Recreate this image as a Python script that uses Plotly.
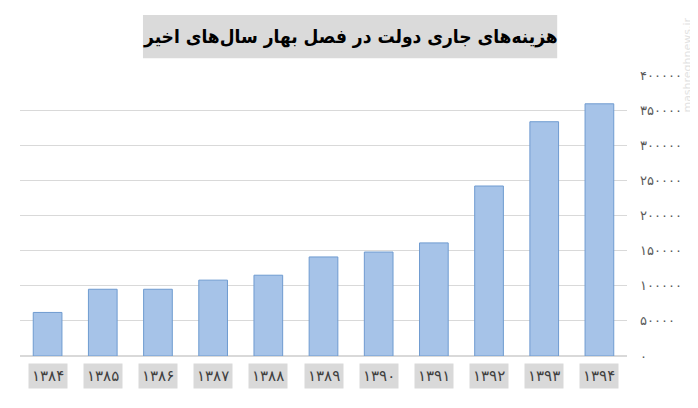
"""
Spring current expenditures of the government, bar chart (Persian)
"""
import plotly.graph_objects as go

years = ["۱۳۸۴", "۱۳۸۵", "۱۳۸۶", "۱۳۸۷", "۱۳۸۸", "۱۳۸۹",
         "۱۳۹۰", "۱۳۹۱", "۱۳۹۲", "۱۳۹۳", "۱۳۹۴"]
spending = [62000, 95000, 95000, 108000, 115000, 141000,
            148000, 161000, 242000, 333500, 359000]
tick_vals = [0, 50000, 100000, 150000, 200000, 250000, 300000, 350000, 400000]
tick_text = ["۰", "۵۰۰۰۰", "۱۰۰۰۰۰", "۱۵۰۰۰۰", "۲۰۰۰۰۰",
             "۲۵۰۰۰۰", "۳۰۰۰۰۰", "۳۵۰۰۰۰", "۴۰۰۰۰۰"]
title_text = "هزینه‌های جاری دولت در فصل بهار سال‌های اخیر"

FONT = "DejaVu Sans"

fig = go.Figure()
fig.add_trace(
    go.Bar(
        x=years,
        y=spending,
        width=0.52,
        marker=dict(color="#a6c3e8", line=dict(color="#6f9bd0", width=1)),
        hoverinfo="y",
    )
)

# year labels sit in grey boxes under the bars
for yr in years:
    fig.add_annotation(
        x=yr, y=-0.071, xref="x", yref="paper",
        text=yr, showarrow=False, yanchor="middle",
        font=dict(family=FONT, size=15, color="#404040"),
        bgcolor="#d9d9d9", borderpad=3,
    )

# title box
fig.add_shape(
    type="rect", xref="paper", yref="paper",
    x0=0.2026, x1=0.885, y0=1.060, y1=1.2135,
    fillcolor="#dadada", line=dict(width=0), layer="below",
)
fig.add_annotation(
    x=0.5437, y=1.137, xref="paper", yref="paper",
    text="<b>" + title_text + "</b>", showarrow=False,
    xanchor="center", yanchor="middle",
    font=dict(family="DejaVu Sans Condensed", size=19, color="black"),
)

# chart frame left edge
fig.add_shape(
    type="line", xref="paper", yref="paper",
    x0=-0.0264, x1=-0.0264, y0=-0.13, y1=1.04,
    line=dict(color="#d9d9d9", width=1),
)

# site watermark
fig.add_annotation(
    x=1.1, y=1.036, xref="paper", yref="paper",
    text="mashreghnews.ir", showarrow=False, textangle=-90,
    xanchor="center", yanchor="middle",
    font=dict(family=FONT, size=11, color="#e2e2e2"),
)

# the page body adds an 8px margin, so the figure is 8px smaller
fig.update_layout(
    width=690,
    height=400,
    margin=dict(l=12, r=71, t=67, b=52),
    paper_bgcolor="white",
    plot_bgcolor="white",
    showlegend=False,
    bargap=0.48,
    xaxis=dict(showticklabels=False, showgrid=False, zeroline=False,
               showline=False, ticks=""),
    yaxis=dict(
        side="right",
        range=[0, 400000],
        tickvals=tick_vals,
        ticktext=tick_text,
        showgrid=True,
        gridcolor="#d9d9d9",
        gridwidth=1,
        zeroline=True,
        zerolinecolor="#d9d9d9",
        showline=False,
        ticklabelstandoff=12,
        tickfont=dict(family=FONT, size=13, color="#595959"),
    ),
)

fig.write_html("out.html")
